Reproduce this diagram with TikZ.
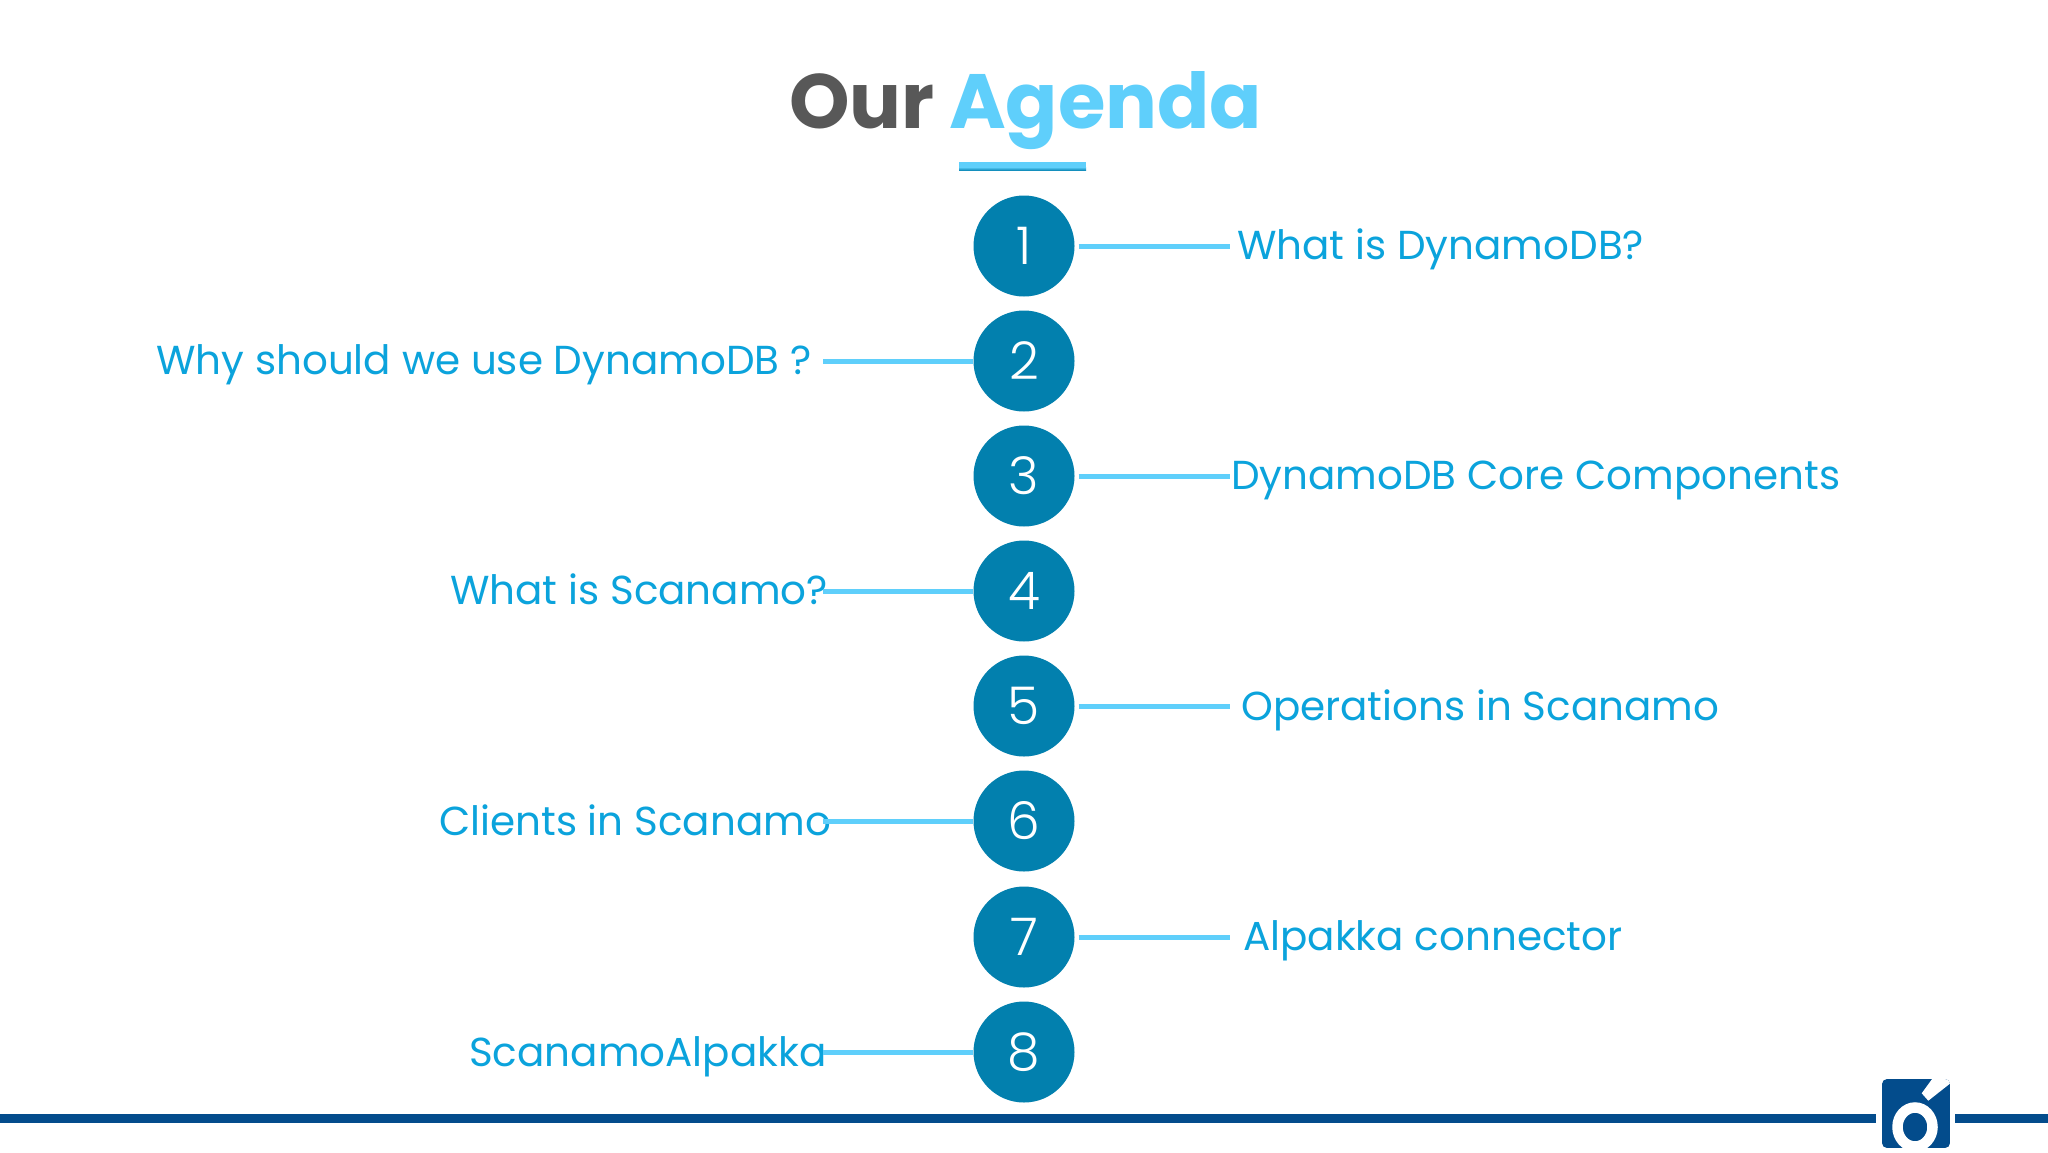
\documentclass[tikz,border=0pt]{standalone}
\usepackage{fontspec}
\setmainfont{Poppins}
\newfontfamily\popbold{Poppins Bold}
\newfontfamily\poplight{Poppins Light}
\definecolor{numblue}{HTML}{0280AE}
\definecolor{labelblue}{HTML}{0BA3DC}
\definecolor{linecyan}{HTML}{5FCFFB}
\definecolor{titlegray}{HTML}{585858}
\definecolor{barblue}{HTML}{034C8C}
\tikzset{
  numcircle/.style={circle,fill=numblue,draw=none,minimum size=101pt,inner sep=0pt,text=white,font=\fontsize{52}{52}\poplight},
  itemlabel/.style={anchor=base west,inner sep=0pt,text=labelblue,font=\fontsize{40.45}{42}\selectfont},
  link/.style={draw=linecyan,line width=5pt},
  titletext/.style={anchor=base west,inner sep=0pt,font=\fontsize{77}{80}\popbold}
}
\begin{document}
\begin{tikzpicture}[x=1pt,y=-1pt]
\useasboundingbox (0,0) rectangle (2048,1152);
\fill[white] (0,0) rectangle (2048,1152);
% title
\node[titletext,text=titlegray] (tour) at (789,128) {Our};
\node[titletext,text=linecyan] (tagenda) at (949,128) {Agenda};
\fill[linecyan] (959,162) rectangle (1086,167);
\shade[top color=linecyan,bottom color=numblue] (959,167) rectangle (1086,170.7);
% circles
\foreach \n/\y in {1/246,2/361,3/476,4/591,5/706,6/821,7/937,8/1052}
  \node[numcircle] (c\n) at (1024,\y) {\n};
% labels
\node[itemlabel] (l1) at (1237,259) {What is DynamoDB?};
\node[itemlabel] (l2) at (156,374) {Why should we use DynamoDB ?};
\node[itemlabel] (l3) at (1231,489) {DynamoDB Core Components};
\node[itemlabel] (l4) at (450,604) {What is Scanamo?};
\node[itemlabel] (l5) at (1241,720) {Operations in Scanamo};
\node[itemlabel] (l6) at (439,835) {Clients in Scanamo};
\node[itemlabel] (l7) at (1243,950) {Alpakka connector};
\node[itemlabel] (l8) at (469,1066) {ScanamoAlpakka};
% connectors
\foreach \n/\y in {1/246,3/476,5/706,7/937}{
  \coordinate (e\n) at (1230,\y);
  \draw[link] ([xshift=4pt]c\n.east) -- (e\n);
}
\foreach \n/\y in {2/361,4/591,6/821,8/1052}{
  \coordinate (e\n) at (823,\y);
  \draw[link] (c\n.west) -- (e\n);
}
% footer bar and logo
\fill[barblue] (0,1114) rectangle (1876,1123);
\fill[barblue] (1955,1114) rectangle (2048,1123);
\begin{scope}
\clip[rounded corners=5pt] (1882,1079) rectangle (1950,1148);
\fill[barblue] (1882,1079) rectangle (1950,1148);
\fill[white] (1935,1075) -- (1952,1075) -- (1952,1082) -- (1928.3,1100.7) -- (1921.7,1093.3) -- cycle;
\draw[white,line width=10.5pt] (1915,1127) ellipse (17.5pt and 19.5pt);
\end{scope}
\end{tikzpicture}
\end{document}
